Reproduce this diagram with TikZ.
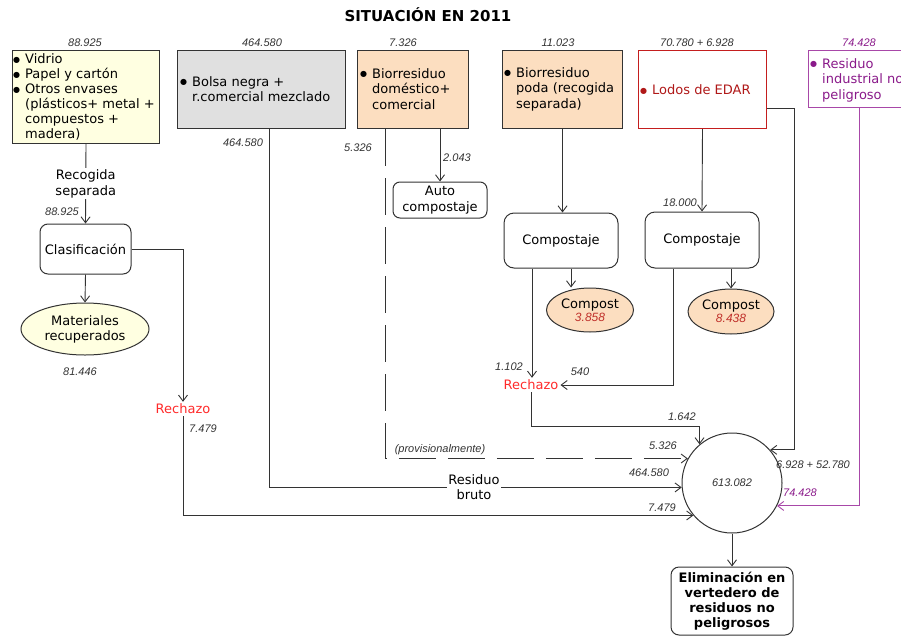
\documentclass[tikz,border=0pt]{standalone}
\usepackage{fontspec}
\setmainfont{DejaVu Sans}
\newfontfamily\numfont{Liberation Sans}
\usetikzlibrary{arrows.meta,shapes.geometric,calc}
\definecolor{lin}{HTML}{333333}
\definecolor{yel}{HTML}{FFFFE1}
\definecolor{gry}{HTML}{E0E0E0}
\definecolor{pch}{HTML}{FCDEC0}
\definecolor{lodob}{HTML}{C41E1E}
\definecolor{lodot}{HTML}{B01818}
\definecolor{purpb}{HTML}{A848A8}
\definecolor{purpt}{HTML}{8A1A8A}
\definecolor{rech}{HTML}{FF2A2A}
\definecolor{cpn}{HTML}{C0302A}
\newcommand\bul{\makebox[0pt][r]{\raisebox{0.12em}{\fontsize{8}{8}\selectfont ●}\hspace{5pt}}}
\begin{document}
\begin{tikzpicture}[x=1pt,y=-1pt,
  sq/.style={draw=lin, line width=1pt, inner sep=0pt, anchor=north west},
  rnd/.style={draw=lin, line width=1pt, rounded corners=8pt, inner sep=0pt, align=center, font=\fontsize{13}{15.5}\selectfont},
  ell/.style={ellipse, draw=lin, line width=1pt, inner sep=0pt, align=center, font=\fontsize{13}{15}\selectfont},
  txt/.style={font=\fontsize{13}{15.5}\selectfont, inner sep=0pt, align=left},
  num/.style={font=\numfont\itshape\fontsize{11}{13}\selectfont, inner sep=0pt, text=lin},
  arr/.style={draw=lin, line width=0.9pt, -{Straight Barb[length=6pt,width=9pt]}},
  dsh/.style={dash pattern=on 37pt off 12pt},
  rch/.style={font=\fontsize{13}{15}\selectfont, text=rech, inner sep=2pt}
]
\useasboundingbox (0,0) rectangle (901,637);
\clip (0,0) rectangle (901,637);

% title
\node[font=\bfseries\fontsize{15}{17}\selectfont, inner sep=0pt] (title) at (428,15) {SITUACIÓN EN 2011};

% source boxes
\node[sq, fill=yel, minimum width=147pt, minimum height=93pt] (b1) at (12,50) {};
\node[txt, font=\fontsize{13}{15}\selectfont, anchor=west] (t1) at (25,97) {\bul Vidrio\\ \bul Papel y cartón\\ \bul Otros envases\\ (plásticos+ metal +\\ compuestos +\\ madera)};
\node[sq, fill=gry, minimum width=168pt, minimum height=78pt] (b2) at (177,50) {};
\node[txt, anchor=west] (t2) at (192,89) {\bul Bolsa negra +\\ r.comercial mezclado};
\node[sq, fill=pch, minimum width=111pt, minimum height=78pt] (b3) at (357,50) {};
\node[txt, anchor=west] (t3) at (372,89) {\bul Biorresiduo\\ doméstico+\\ comercial};
\node[sq, fill=pch, minimum width=120pt, minimum height=78pt] (b4) at (502,50) {};
\node[txt, anchor=west] (t4) at (516,89) {\bul Biorresiduo\\ poda (recogida\\ separada)};
\node[sq, draw=lodob, fill=white, minimum width=128pt, minimum height=78pt] (b5) at (638,50) {};
\node[txt, anchor=west, text=lodot] (t5) at (652,90) {\bul Lodos de EDAR};
\node[sq, draw=purpb, fill=white, minimum width=102pt, minimum height=57pt] (b6) at (808,50) {};
\node[txt, anchor=west, text=purpt] (t6) at (822,80) {\bul Residuo\\ industrial no\\ peligroso};

% process nodes
\node[rnd, minimum width=91pt, minimum height=50pt] (clas) at (85.5,249) {Clasificación};
\node[ell, fill=yel, minimum width=128pt, minimum height=52pt] (mat) at (85,329) {Materiales\\recuperados};
\node[rch] (rech1) at (183,409) {Rechazo};
\node[rnd, rounded corners=7pt, minimum width=94pt, minimum height=36pt] (auto) at (440,200) {Auto\\compostaje};
\node[rnd, rounded corners=10pt, minimum width=114pt, minimum height=55pt] (comp1) at (561,240.5) {Compostaje};
\node[rnd, rounded corners=10pt, minimum width=114pt, minimum height=56pt] (comp2) at (702,240) {Compostaje};
\node[ell, fill=pch, minimum width=87pt, minimum height=44pt] (cp1) at (590,310) {Compost\\[-2pt]{\numfont\itshape\fontsize{12}{14}\selectfont\color{cpn}3.858}};
\node[ell, fill=pch, minimum width=86pt, minimum height=45pt] (cp2) at (731,311.5) {Compost\\[-2pt]{\numfont\itshape\fontsize{12}{14}\selectfont\color{cpn}8.438}};
\node[rch] (rech2) at (531,385) {Rechazo};
\node[circle, draw=lin, line width=1pt, minimum size=100pt, inner sep=0pt, num] (circ) at (732,483) {613.082};
\node[rnd, font=\bfseries\fontsize{13}{15}\selectfont, minimum width=122pt, minimum height=68pt] (elim) at (732,601) {Eliminación en\\vertedero de\\residuos no\\peligrosos};

% connectors
\draw[arr] (b1.south) -- node[fill=white, txt, align=center, inner xsep=2pt, inner ysep=1.5pt] (rs) {Recogida\\separada} (clas.north);
\draw[arr] (clas.south) -- (mat.north);
\draw[arr] (clas.east) -| (rech1.north);
\draw[arr] (rech1.south) |- (circ.220);
\draw[arr] ([xshift=8pt]b2.south) |- (circ.185);
\node[fill=white, txt, align=center, inner sep=1pt] (rb) at (474,487) {Residuo\\bruto};
\draw[arr, dsh] ([xshift=-27.5pt]b3.south) |- (circ.151);
\draw[arr] (b3.south -| auto.north) -- (auto.north);
\draw[arr] (b4.south) -- (b4.south |- comp1.north);
\draw[arr] (b5.south) -- (comp2.north);
\draw[arr] ([yshift=-19pt]b5.east) -- ++(27,0) |- (circ.41);
\draw[arr, draw=purpb] (b6.south) |- (circ.-27);
\draw[arr] ([xshift=10pt]comp1.south) -- ([xshift=10pt]comp1.south |- cp1.north);
\draw[arr] (comp2.south -| cp2.north) -- (cp2.north);
\draw[arr] ([xshift=-29pt]comp1.south) -- ([xshift=-29pt]comp1.south |- rech2.north);
\draw[arr] ([xshift=-29pt]comp2.south) |- (rech2.east);
\draw[arr] (rech2.south) -- ++(0,34) -| (circ.130);
\draw[arr] (circ.south) -- (elim.north);

% numbers
\node[num] (n1) at (85,43) {88.925};
\node[num] (n2) at (262,43) {464.580};
\node[num] (n3) at (403,43) {7.326};
\node[num] (n4) at (558,43) {11.023};
\node[num] (n5) at (697,43) {70.780 + 6.928};
\node[num, text=purpt] (n6) at (859,43) {74.428};
\node[num] (n7) at (62,212) {88.925};
\node[num] (n8) at (80,372) {81.446};
\node[num] (n9) at (203,429) {7.479};
\node[num] (n10) at (243,143) {464.580};
\node[num] (n11) at (358,148) {5.326};
\node[num] (n12) at (457,158) {2.043};
\node[num] (n13) at (680,203) {18.000};
\node[num] (n14) at (509,367) {1.102};
\node[num] (n15) at (580,372) {540};
\node[num] (n16) at (682,417) {1.642};
\node[num] (n17) at (440,450) {(provisionalmente)};
\node[num] (n18) at (663,446) {5.326};
\node[num] (n19) at (649,473) {464.580};
\node[num] (n20) at (662,508) {7.479};
\node[num] (n21) at (813,465) {6.928 + 52.780};
\node[num, text=purpt] (n22) at (800,493) {74.428};
\end{tikzpicture}
\end{document}
